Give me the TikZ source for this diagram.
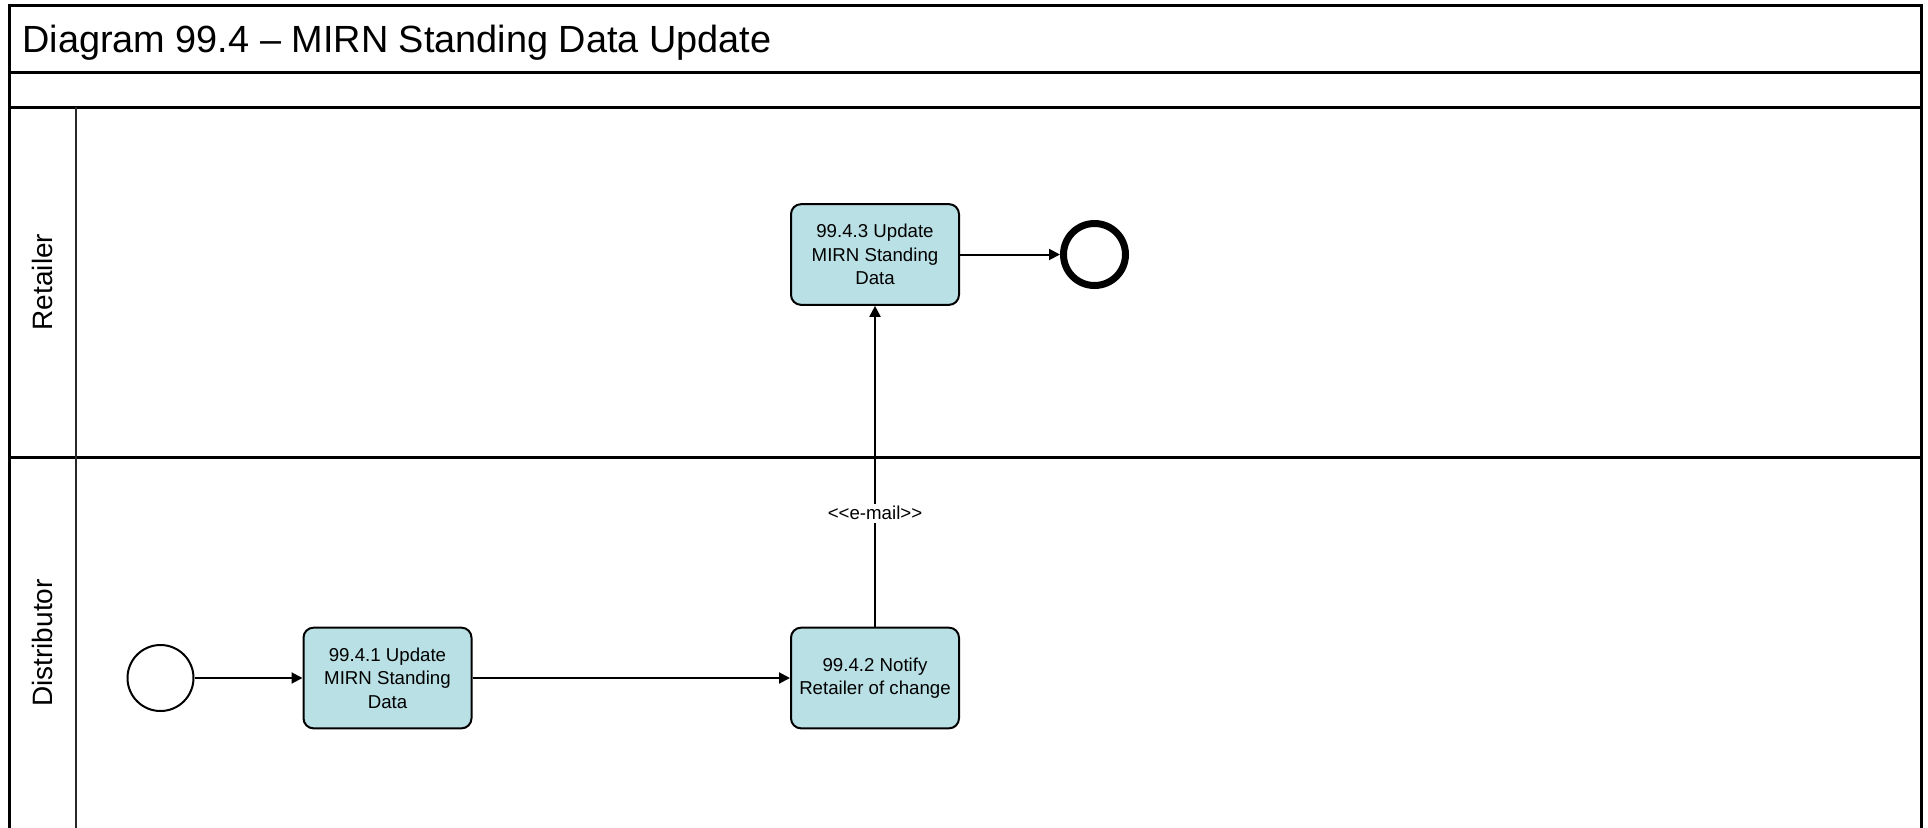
\documentclass[tikz,border=0pt]{standalone}
\usepackage{fontspec}
\setmainfont{Liberation Sans}
\usepackage{tikz}
\usetikzlibrary{arrows.meta,shapes,positioning}
\usepackage{xcolor}
\definecolor{taskfill}{RGB}{185,224,228}
\definecolor{laneline}{RGB}{40,40,40}
\tikzstyle{task} = [rectangle, rounded corners=7.5pt, minimum width=126pt, minimum height=75.5pt, align=center, draw=black, fill=taskfill, line width=1.5pt, font=\fontsize{14}{17.5}\selectfont]
\tikzstyle{startev} = [circle, minimum size=49.5pt, inner sep=0pt, draw=black, fill=white, line width=1.5pt]
\tikzstyle{endev} = [circle, minimum size=46.5pt, inner sep=0pt, draw=black, fill=white, line width=5.25pt]
\tikzstyle{arrow} = [line width=1.5pt,-{Triangle[length=8.25pt,width=8.25pt]},color=black]
\tikzstyle{pool} = [line width=2.25pt, color=black]
\tikzstyle{lanelabel} = [rotate=90, font=\fontsize{21}{25}\selectfont]

\begin{document}
\begin{tikzpicture}[x=0.75pt, y=-0.75pt]
\useasboundingbox (0,0) rectangle (1928,828);

% Pool frame
\draw[pool] (9,828) -- (9,5) -- (1921,5) -- (1921,828);
\draw[pool] (9,72) -- (1921,72);
\draw[pool] (9,107) -- (1921,107);
\draw[pool] (9,457) -- (1921,457);
\draw[line width=2pt, color=laneline] (76,107) -- (76,828);

% Title
\node[anchor=base west, font=\fontsize{28.4}{34}\selectfont, inner sep=0pt] (title) at (22,52) {Diagram 99.4 -- MIRN Standing Data Update};

% Lanes
\node[lanelabel] (ret) at (42,282) {Retailer};
\node[lanelabel] (dist) at (42,643) {Distributor};

% Distributor lane
\node[startev] (start) at (160.5,678) {};
\node[task] (upd1) at (387.5,678) {99.4.1 Update\\MIRN Standing\\Data};
\node[task] (notify) at (875,678) {99.4.2 Notify\\Retailer of change};

% Retailer lane
\node[task] (upd3) at (875,254.5) {99.4.3 Update\\MIRN Standing\\Data};
\node[endev] (end) at (1094.5,254.5) {};

% Connections
\draw[arrow] (start) -- (upd1);
\draw[arrow] (upd1) -- (notify);
\draw[arrow] (notify) -- node[pos=0.354, fill=white, inner sep=2pt, font=\fontsize{14}{17}\selectfont] (mail) {{<}{<}e-mail{>}{>}} (upd3);
\draw[arrow] (upd3) -- (end);
\end{tikzpicture}
\end{document}
